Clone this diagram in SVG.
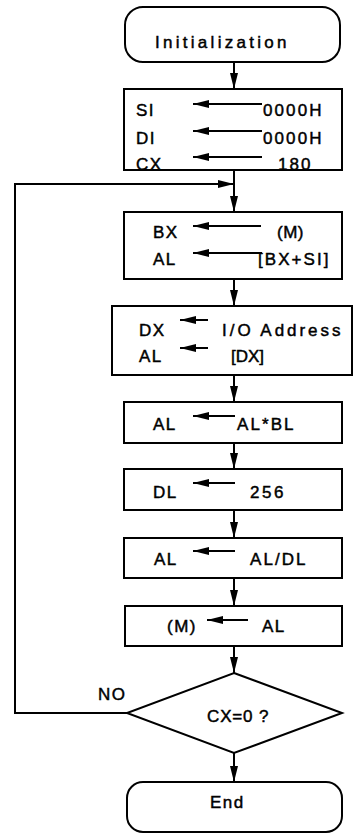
<svg xmlns="http://www.w3.org/2000/svg" width="353" height="834" viewBox="0 0 353 834">
<style>
.s{fill:#fff;stroke:#000;stroke-width:2}
.c{fill:none;stroke:#000;stroke-width:2}
.a{marker-end:url(#ah)}
text{font-family:"Liberation Sans",Arial,sans-serif;font-size:17px;fill:#000;stroke:#000;stroke-width:0.45;letter-spacing:1.5px}
</style>
<defs>
<marker id="ah" markerUnits="userSpaceOnUse" markerWidth="17" markerHeight="9" refX="16" refY="4" orient="auto">
<path d="M0,0 L16,4 L0,8 z" fill="#000"/>
</marker>
</defs>
<rect width="353" height="834" fill="#fff"/>
<g id="connectors">
<line class="c a" x1="234" y1="62" x2="234" y2="89"/>
<line class="c a" x1="234" y1="170" x2="234" y2="212"/>
<line class="c a" x1="234" y1="279" x2="234" y2="306"/>
<line class="c a" x1="234" y1="375" x2="234" y2="402"/>
<line class="c a" x1="234" y1="443" x2="234" y2="469"/>
<line class="c a" x1="234" y1="510" x2="234" y2="538"/>
<line class="c a" x1="234" y1="578" x2="234" y2="606"/>
<line class="c a" x1="234" y1="646" x2="234" y2="673"/>
<line class="c a" x1="234" y1="753" x2="234" y2="782"/>
<polyline class="c a" points="127,713 15,713 15,184 234,184"/>
<text x="98" y="700">NO</text>
</g>
<g id="n-init">
<rect class="s" x="125" y="7" width="215" height="55" rx="18"/>
<text x="155" y="48" textLength="133" lengthAdjust="spacing">Initialization</text>
</g>
<g id="n-box1">
<rect class="s" x="124" y="89" width="218" height="81"/>
<text x="136" y="116">SI</text>
<line class="c a" x1="262" y1="104" x2="193" y2="104"/>
<text x="263" y="116" textLength="60" lengthAdjust="spacing">0000H</text>
<text x="136" y="144">DI</text>
<line class="c a" x1="262" y1="131" x2="193" y2="131"/>
<text x="263" y="144" textLength="60" lengthAdjust="spacing">0000H</text>
<text x="136" y="170">CX</text>
<line class="c a" x1="262" y1="157" x2="193" y2="157"/>
<text x="278" y="170" textLength="34" lengthAdjust="spacing">180</text>
</g>
<g id="n-box2">
<rect class="s" x="124" y="212" width="218" height="67"/>
<text x="153" y="238">BX</text>
<line class="c a" x1="261" y1="226" x2="193" y2="226"/>
<text x="277" y="238" textLength="28" lengthAdjust="spacing">(M)</text>
<text x="153" y="265">AL</text>
<line class="c a" x1="262" y1="253" x2="193" y2="253"/>
<text x="258" y="265" textLength="72" lengthAdjust="spacing">[BX+SI]</text>
</g>
<g id="n-box3">
<rect class="s" x="112" y="306" width="240" height="69"/>
<text x="139" y="336">DX</text>
<line class="c a" x1="208" y1="320" x2="180" y2="320"/>
<text x="222" y="336" textLength="120" lengthAdjust="spacing">I/O Address</text>
<text x="139" y="362">AL</text>
<line class="c a" x1="208" y1="348" x2="180" y2="348"/>
<text x="231" y="362" style="letter-spacing:0">[DX]</text>
</g>
<g id="n-box4">
<rect class="s" x="124" y="402" width="218" height="41"/>
<text x="153" y="430">AL</text>
<line class="c a" x1="235" y1="416" x2="193" y2="416"/>
<text x="237" y="430" textLength="58" lengthAdjust="spacing">AL*BL</text>
</g>
<g id="n-box5">
<rect class="s" x="124" y="469" width="218" height="41"/>
<text x="153" y="498">DL</text>
<line class="c a" x1="235" y1="483" x2="193" y2="483"/>
<text x="250" y="498" textLength="35" lengthAdjust="spacing">256</text>
</g>
<g id="n-box6">
<rect class="s" x="124" y="538" width="218" height="40"/>
<text x="154" y="565">AL</text>
<line class="c a" x1="235" y1="551" x2="193" y2="551"/>
<text x="250" y="565" textLength="57" lengthAdjust="spacing">AL/DL</text>
</g>
<g id="n-box7">
<rect class="s" x="125" y="606" width="217" height="40"/>
<text x="167" y="632" textLength="30" lengthAdjust="spacing">(M)</text>
<line class="c a" x1="248" y1="620" x2="207" y2="620"/>
<text x="262" y="632">AL</text>
</g>
<g id="n-decision">
<polygon class="s" points="234,673 342,713 234,753 127,713"/>
<text x="207" y="722" textLength="63" lengthAdjust="spacing">CX=0 ?</text>
</g>
<g id="n-end">
<rect class="s" x="127" y="782" width="215" height="50" rx="16"/>
<text x="210" y="808">End</text>
</g>
</svg>
